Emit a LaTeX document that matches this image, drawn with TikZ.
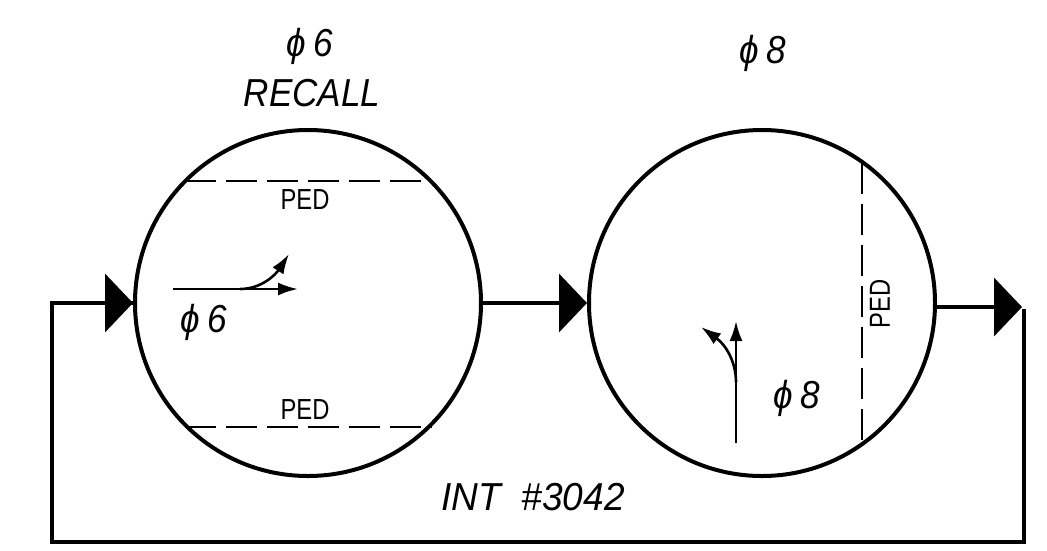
\documentclass[tikz,border=0pt]{standalone}
\usepackage{fontspec}
\setmainfont{Liberation Sans}
\usepackage{graphicx}
\usetikzlibrary{arrows.meta}
\tikzset{
  phase/.style={circle, draw, line width=4pt, minimum size=346pt, inner sep=0pt},
  conn/.style={line width=4pt, -{Triangle[length=28pt,width=58pt]}},
  loopline/.style={line width=4pt, line join=miter},
  pedline/.style={line width=2pt, dash pattern=on 31pt off 10pt},
  move/.style={line width=2.6pt, -{Latex[length=20pt,width=13pt]}},
  lbl/.style={font=\fontsize{39}{40}\selectfont\itshape, inner sep=0pt},
  ped/.style={font=\fontsize{29}{30}\selectfont, inner sep=0pt}
}
\begin{document}
\begin{tikzpicture}[x=1pt,y=-1pt]
\useasboundingbox (0,0) rectangle (1047,550);
% circles
\node[phase] (c1) at (308,303) {};
\node[phase] (c2) at (762,303) {};
% top labels
\node[lbl] (t1) at (310,46) {\scalebox{0.9}[1]{ϕ\kern8pt 6}};
\node[lbl] (t2) at (312,93) {\scalebox{0.9}[1]{RECALL}};
\node[lbl] (t3) at (763,53) {\scalebox{0.9}[1]{ϕ\kern8pt 8}};
\node[lbl] (t4) at (533,497) {\scalebox{0.95}[1]{INT\ \ \#3042}};
% PED lines
\coordinate (p1a) at (185,181);
\coordinate (p1b) at (432,181);
\coordinate (p2a) at (185,427);
\coordinate (p2b) at (432,427);
\coordinate (p3a) at (862,163);
\coordinate (p3b) at (862,443);
\draw[pedline] (p1a) -- (p1b);
\draw[pedline] (p2a) -- (p2b);
\draw[pedline] (p3a) -- (p3b);
\node[ped] (ped1) at (305,200) {\scalebox{0.82}[1]{PED}};
\node[ped] (ped2) at (305,410) {\scalebox{0.82}[1]{PED}};
\node[ped, rotate=90] (ped3) at (880,304) {\scalebox{0.82}[1]{PED}};
% movements in circle 1
\coordinate (m1s) at (173,289);
\coordinate (m1e) at (298,289);
\coordinate (m1b) at (240,289);
\coordinate (m1t) at (289,254);
\draw[move] (m1s) -- (m1e);
\draw[move] (m1b) .. controls (262,289) and (276,274) .. (m1t);
\node[lbl] (l1) at (204,322) {\scalebox{0.9}[1]{ϕ\kern8pt 6}};
% movements in circle 2
\coordinate (m2s) at (736,443);
\coordinate (m2e) at (736,321);
\coordinate (m2b) at (736,382);
\coordinate (m2t) at (701,327);
\draw[move] (m2s) -- (m2e);
\draw[move] (m2b) .. controls (736,362) and (726,345) .. (m2t);
\node[lbl] (l2) at (797,398) {\scalebox{0.9}[1]{ϕ\kern8pt 8}};
% connectors
\coordinate (R) at (1024,307);
\coordinate (Rt) at (1022,307);
\coordinate (BR) at (1024,542);
\coordinate (BL) at (52,542);
\coordinate (L) at (52,303);
\draw[conn] (c1.east) -- (c2.west);
\draw[conn] (c2.east |- R) -- (Rt);
\draw[loopline] ([yshift=-2pt]R) -- (BR) -- (BL) -- (L) -- (c1.west);
\draw[conn] (L) -- (c1.west);
\end{tikzpicture}
\end{document}
